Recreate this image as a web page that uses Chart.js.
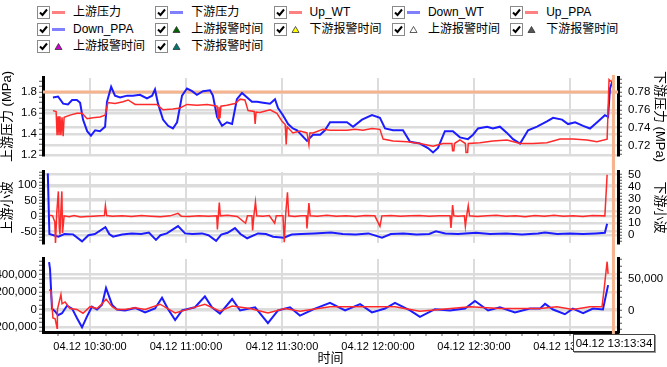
<!DOCTYPE html>
<html>
<head>
<meta charset="utf-8">
<script src="https://cdn.jsdelivr.net/npm/chart.js@4.4.0/dist/chart.umd.min.js"></script>
<style>
  html, body { margin: 0; padding: 0; background: #fff; }
  body { width: 667px; height: 367px; position: relative; overflow: hidden;
         font-family: 'Liberation Sans', 'Noto Sans CJK SC', sans-serif; }
  canvas { position: absolute; left: 0; }
  .lg { position: absolute; height: 13px; width: 118px; font-size: 12px; color: #000; white-space: nowrap; }
  .lg svg { position: absolute; top: 0; }
  .lg span { position: absolute; left: 36px; top: -1px; line-height: 15px; }
  #cursorBox { position: absolute; left: 573px; top: 334px; width: 80px; height: 16px;
               border: 1px solid #444; box-shadow: 1px 1px 0 #999; background: #fff;
               font-size: 11.5px; line-height: 16px; text-align: center; color: #000; z-index: 5; }
</style>
</head>
<body>
<div id="legend"></div>
<canvas id="c1" width="667" height="103" style="top:65px"></canvas>
<canvas id="c2" width="667" height="97" style="top:159px"></canvas>
<canvas id="c3" width="667" height="121" style="top:246px"></canvas>
<div id="cursorBox">04.12 13:13:34</div>
<script>
// ---- 数据 (时间 = 10:00 之后的分钟数) ----
const X_MIN = 15.3, X_MAX = 195;
const CURSOR_MIN = 193.57;           // 13:13:34
const DAY_LABEL = '04.12';

// 图1: 上游压力 (左轴, 红) / 下游压力 (右轴, 蓝)
const p1UpT = [18.4,19.4,19.7,20.0,20.3,20.6,20.9,21.25,21.6,21.9,
  23.75,25.9,27.5,29.1,30.9,33.1,34.7,35.6,37.8,40.3,
  41.9,44.1,46.6,50.9,52.8,55.9,58.1,60.3,63.4,66.6,
  69.7,70.0,70.3,70.6,70.9,72.8,75.3,76.9,78.4,79.4,
  81.3,81.6,81.9,83.1,86.25,88.4,90,91.0,91.3,91.6,
  93.4,95.6,97.8,98.4,98.7,99.7,102.8,105,107.5,110.3,
  112.8,115.3,118.1,120.6,121.6,124.7,129.1,133.1,137.2,140.3,
  143.1,143.3,143.7,143.9,145.6,147.3,147.5,148.0,148.2,151.9,
  155.9,160.3,164.4,168.4,172.8,176.9,180.9,185.3,188.4,191.6,
  192.2,192.8];
const p1UpV = [1.623,1.614,1.39,1.57,1.39,1.57,1.39,1.56,1.38,1.56,
  1.58,1.597,1.597,1.546,1.555,1.563,1.58,1.699,1.69,1.707,
  1.724,1.682,1.682,1.682,1.631,1.639,1.648,1.682,1.673,1.682,
  1.665,1.55,1.66,1.55,1.665,1.673,1.69,1.732,1.724,1.623,
  1.615,1.496,1.61,1.606,1.631,1.597,1.521,1.49,1.30,1.47,
  1.411,1.428,1.411,1.30,1.41,1.411,1.445,1.437,1.437,1.437,
  1.445,1.437,1.453,1.445,1.352,1.335,1.327,1.31,1.285,1.31,
  1.31,1.242,1.242,1.31,1.344,1.31,1.225,1.225,1.31,1.318,
  1.335,1.344,1.31,1.31,1.318,1.352,1.352,1.344,1.327,1.352,
  1.918,1.9];
const p1DownT = [18.4,20,21.6,23.1,24.4,25.9,26.9,27.8,29.1,30.3,
  31.6,33.1,34.7,35.3,36.6,37.8,39.4,41.6,43.4,45.6,
  47.8,49.4,50.3,51.25,52.8,54.4,55.9,57.2,58.75,60.3,
  61.9,63.4,65.3,67.5,68.4,69.7,71.25,72.8,74.4,75.9,
  77.5,79.1,80.6,82.2,84.1,86.25,87.8,88.75,90.3,91.9,
  93.4,94.7,97.8,99.7,101.9,103.4,105,108.1,110.3,112.2,
  115,118.1,120.6,122.2,124.7,127.8,130,133.1,135.6,137.2,
  138.75,140.9,143.4,145.6,148.1,149.7,151.25,154.1,155.9,158.1,
  160.3,162.2,164.4,166.9,169.7,172.8,174.7,177.5,179.4,181.6,
  184.1,186.25,188.75,190.9,191.9,192.5,193.4];
const p1DownV = [0.774,0.775,0.767,0.766,0.771,0.771,0.768,0.749,0.736,0.731,
  0.737,0.736,0.741,0.769,0.786,0.776,0.774,0.776,0.776,0.777,
  0.773,0.776,0.783,0.767,0.749,0.742,0.739,0.746,0.776,0.784,
  0.781,0.777,0.781,0.782,0.776,0.752,0.742,0.746,0.744,0.772,
  0.779,0.774,0.769,0.769,0.768,0.767,0.772,0.762,0.754,0.744,
  0.739,0.737,0.725,0.732,0.732,0.737,0.746,0.746,0.746,0.741,
  0.749,0.754,0.751,0.739,0.737,0.737,0.724,0.722,0.717,0.712,
  0.717,0.736,0.736,0.729,0.727,0.732,0.739,0.741,0.739,0.741,
  0.734,0.727,0.722,0.737,0.741,0.747,0.751,0.749,0.744,0.746,
  0.742,0.739,0.747,0.754,0.752,0.784,0.794];
const p1Limit = 1.8;

// 图2: 上游小波 (左轴, 红) / 下游小波 (右轴, 蓝)
const p2UpT = [17.5,18.3,19.0,19.2,19.6,20.1,20.4,20.6,20.9,21.2,
  21.4,21.9,23.5,25,27,29,31,33,34.5,34.8,
  35.2,37,40,43,46,49,52,55,57.5,58.5,
  61,64,67,69.6,69.8,70.1,70.4,70.7,73,76,
  78.6,79.2,80.6,80.8,81.2,81.7,82.1,84,86,87.7,
  88.2,90.3,90.7,91.1,91.7,92.1,94,96,97.6,97.8,
  98.1,98.4,98.8,101,104,107,110,113,116,119,
  120.6,121.2,124,127,130,133,136,139,142.5,142.8,
  143.1,143.3,143.7,145,147.0,147.3,147.7,148.2,148.6,151,
  154,157,160,163,166,169,172,175,178,181,
  184,187,190.9,191.6];
const p2UpV = [2,0,-20,-91,10,79,-40,-60,20,79,
  -55,0,-3,1,-4,-2,-1,0,1,33,
  1,-1,0,-2,1,-1,-3,0,8,-1,
  -2,0,-1,0,-44,0,43,0,2,-2,
  -24,0,0,-47,0,45,0,-1,1,-24,
  0,0,-85,0,76,0,-2,0,0,-41,
  0,41,0,-1,2,-1,0,-2,1,0,
  -34,0,1,-1,0,1,-1,0,0,-39,
  0,35,0,-1,0,-34,0,33,0,-2,
  0,2,-1,0,-3,1,-1,2,-1,0,
  -2,1,0,133];
const p2DownT = [16.8,17.3,20.1,22,24.7,27.5,29.5,31.5,34.8,36,
  37.2,40,43,46,48.4,50.6,52,54,57.5,59.7,
  62,65,67,69.4,71,73,75.3,77,79.1,82.5,
  85,87.2,90.6,93,96,100,105.3,109,113,117,
  121.25,124,128,132,136,138.1,141,145,150.6,155,
  160,165,170,172.2,176,180,184,188,190.9,191.6];
const p2DownV = [51,1,-1.2,1,0.7,-5.1,0,1,6.7,1,
  -1.2,0.5,1.5,1,2.2,-3.8,0,1.5,7.5,1.5,
  1,1.5,0,-4.6,0.5,2,5.9,1,-2.5,1.5,
  1,-1.2,-2,0.5,1,1.5,2.2,1,0.5,1.5,
  -2,1,1.5,0.5,1,3.3,1.5,1,2,1,
  1.5,0.5,1.5,2.2,1,1.5,1,1.5,2,9.4];

// 图3: Up_PPA (左轴, 红) / Down_PPA (右轴, 蓝)
const p3UpT = [17.2,17.8,18.4,19.1,19.7,19.8,20.9,21.25,22.2,23.75,
  25.9,27.8,30,32.2,33.75,35,36.9,38.4,40.9,44.1,
  47.2,51.9,56.6,61.25,65.9,70.6,74.4,80,85.6,90.9,
  95.6,105,114.4,125.3,133.1,148.8,158.1,170.6,175.9,180.9,
  186.25,190,190.6,191.6,191.9];
const p3UpV = [224600,214000,-96000,-107000,-214000,0,171000,64000,85600,10700,
  0,-42800,32000,10700,64000,118000,32000,0,0,20000,
  0,60000,-40000,10000,60000,-20000,40000,10000,-40000,10000,
  -20000,30000,30000,30000,-20000,30000,10000,10000,32000,0,
  32000,32000,214000,545000,406000];
const p3DownT = [17.2,17.5,18.1,19.1,20,21.25,22.8,24.4,25.9,27.5,
  29.1,30.6,32.2,33.75,35,36.9,38.4,40.9,44.1,47.2,
  50.3,52.5,54.4,56.6,58.75,62.8,65.9,68.1,70.6,74.4,
  76.9,81.6,85.6,88.75,92.5,95.6,100.3,105,109.7,114.4,
  118.1,122.2,125.3,130,133.1,137.8,142.5,147.2,150.3,154.4,
  158.1,162.8,167.5,170.6,172.2,174.7,178.4,180.9,184.1,187.2,
  190.3,191.9];
const p3DownV = [76000,64700,2900,-1500,-7400,-4400,7400,2900,-11800,-26500,
  -8800,5900,1500,8800,35300,8800,1500,0,4000,-3000,
  3000,20000,2000,-15000,0,5000,22000,5000,-5000,18000,
  0,5000,-20000,0,5000,-8000,3000,12000,0,10000,
  -3000,3000,12000,0,-10000,2000,0,3000,15000,0,
  5000,-3000,3000,2900,10300,1500,-5900,2900,-4400,2900,
  1500,39700];

// 图例
const legendLabels = ['上游压力','下游压力','Up_WT','Down_WT','Up_PPA',
  'Down_PPA','上游报警时间','下游报警时间','上游报警时间','下游报警时间',
  '上游报警时间','下游报警时间'];
const legendMarks = ['line','line','line','line','line','line','tri','tri','tri','tri','tri','tri'];
const legendColors = ['#ff8080','#8080ff','#ff8080','#8080ff','#ff8080','#8080ff',
  '#006400','#ffff00','#ffffff','#555555','#cc00cc','#007878'];

// ---- 样式 ----
const RED = '#ff2a2a', BLUE = '#1c1cff';
const GRID = '#dcdcdc', ORANGE = '#f5b48e';
Chart.defaults.font.family = "'Liberation Sans', 'Noto Sans CJK SC', sans-serif";
Chart.defaults.color = '#000';

function buildLegend() {
  const box = document.getElementById('legend');
  legendLabels.forEach((txt, i) => {
    const row = Math.floor(i / 5), col = i % 5;
    const d = document.createElement('div');
    d.className = 'lg';
    d.style.left = (37 + col * 118.3) + 'px';
    d.style.top = (6 + row * 16.8) + 'px';
    let mark;
    if (legendMarks[i] === 'line') {
      mark = `<svg width="14" height="13" style="left:15px"><line x1="0" y1="6.5" x2="13" y2="6.5" stroke="${legendColors[i]}" stroke-width="3"/></svg>`;
    } else {
      mark = `<svg width="10" height="13" style="left:17px"><polygon points="4.5,3.5 8,9.5 1,9.5" fill="${legendColors[i]}" stroke="#333" stroke-width="0.8"/></svg>`;
    }
    d.innerHTML =
      `<svg width="13" height="13" style="left:0"><rect x="0.5" y="0.5" width="12" height="12" fill="#fff" stroke="#8a8a8a"/>` +
      `<path d="M3 6.5 L5.5 9 L10 3.5" stroke="#000" stroke-width="2" fill="none"/></svg>` +
      mark + `<span>${txt}</span>`;
    box.appendChild(d);
  });
}
buildLegend();

// ---- 工具 ----
const zip = (t, v) => t.slice(0, Math.min(t.length, v.length)).map((x, i) => ({ x, y: v[i] }));
const isMajor = (v, step) => Math.abs(v / step - Math.round(v / step)) < 1e-6;
function tickList(min, max, step) {
  const out = [];
  for (let k = Math.ceil(min / step - 1e-9); k * step <= max + 1e-9; k++) out.push({ value: k * step });
  return out;
}
function fmtTime(m) {
  const h = 10 + Math.floor(m / 60), mm = Math.round(m % 60);
  return `${DAY_LABEL} ${h}:${String(mm).padStart(2, '0')}:00`;
}

function xAxis(showLabels) {
  return {
    type: 'linear', min: X_MIN, max: X_MAX,
    afterBuildTicks: s => { s.ticks = tickList(X_MIN, X_MAX, 5); },
    afterFit: s => { s.height = showLabels ? 35 : 0; },
    ticks: {
      display: showLabels, autoSkip: false, maxRotation: 0, padding: 4,
      font: { size: 11 }, color: '#000',
      callback: v => isMajor(v, 30) ? fmtTime(v) : ''
    },
    grid: {
      color: c => (c.tick && isMajor(c.tick.value, 30)) ? GRID : 'rgba(0,0,0,0)',
      lineWidth: 2, drawTicks: showLabels, tickLength: 4, tickColor: '#666', tickWidth: 1
    },
    border: { display: showLabels, color: '#000', width: 3 },
    title: showLabels
      ? { display: true, text: '时间', font: { size: 13 }, color: '#000', padding: { top: 0, bottom: 1 } }
      : { display: false }
  };
}

function yAxis(pos, min, max, major, minor, fmt, title) {
  const left = pos === 'left';
  return {
    type: 'linear', position: pos, min, max,
    afterBuildTicks: s => { s.ticks = tickList(min, max, minor); },
    afterFit: s => { s.width = left ? 43 : 49; },
    ticks: {
      autoSkip: false, padding: left ? 2 : 6, font: { size: 11.5 }, color: '#000',
      callback: v => isMajor(v, major) ? fmt(v) : ''
    },
    grid: {
      color: c => (c.tick && isMajor(c.tick.value, major)) ? GRID : 'rgba(0,0,0,0)',
      lineWidth: 2.5, tickLength: 4, tickColor: '#555', tickWidth: 1
    },
    border: { color: '#000', width: 3 },
    title: title
      ? { display: true, text: title, font: { size: 13 }, color: '#000', padding: 0 }
      : { display: false }
  };
}

const limitLine = {
  id: 'limitLine',
  beforeDatasetsDraw(chart, args, opts) {
    if (opts.value == null) return;
    const { ctx, chartArea } = chart;
    const y = chart.scales.yL.getPixelForValue(opts.value);
    ctx.save();
    ctx.strokeStyle = ORANGE; ctx.lineWidth = 3;
    ctx.beginPath(); ctx.moveTo(chartArea.left, y); ctx.lineTo(chartArea.right, y); ctx.stroke();
    ctx.restore();
  }
};
const cursorLine = {
  id: 'cursorLine',
  afterDatasetsDraw(chart, args, opts) {
    const { ctx, chartArea } = chart;
    const x = chart.scales.x.getPixelForValue(CURSOR_MIN);
    ctx.save();
    ctx.strokeStyle = ORANGE; ctx.lineWidth = 3;
    ctx.beginPath(); ctx.moveTo(x, opts.fromTop ? chartArea.top - 3 : 0);
    ctx.lineTo(x, opts.toEdge ? chart.height : chartArea.bottom + 2);
    ctx.stroke();
    ctx.restore();
  }
};

function line(data, color, width, axis) {
  return { data, borderColor: color, borderWidth: width, pointRadius: 0, tension: 0, yAxisID: axis, fill: false };
}

function makePanel(id, datasets, yL, yR, bottom, limit) {
  return new Chart(document.getElementById(id), {
    type: 'line',
    data: { datasets },
    options: {
      responsive: false, animation: false, devicePixelRatio: 1,
      layout: { padding: { top: 8, bottom: bottom ? 0 : 8, left: 0, right: 0 } },
      plugins: {
        legend: { display: false }, tooltip: { enabled: false },
        limitLine: { value: limit }, cursorLine: { toEdge: !bottom, fromTop: limit != null }
      },
      scales: { x: xAxis(bottom), yL, yR }
    },
    plugins: [limitLine, cursorLine]
  });
}

makePanel('c1', [
    line(zip(p1UpT, p1UpV), RED, 1.5, 'yL'),
    line(zip(p1DownT, p1DownV), BLUE, 2, 'yR')
  ],
  yAxis('left', 1.2, 1.934, 0.2, 0.05, v => v.toFixed(1), '上游压力 (MPa)'),
  yAxis('right', 0.709, 0.796, 0.02, 0.005, v => v.toFixed(2), '下游压力 (MPa)'),
  false, p1Limit);

makePanel('c2', [
    line(zip(p2UpT, p2UpV), RED, 1.5, 'yL'),
    line(zip(p2DownT, p2DownV), BLUE, 2, 'yR')
  ],
  yAxis('left', -88, 142, 50, 10, v => String(Math.round(v)), '上游小波'),
  yAxis('right', -6.5, 52.2, 10, 2.5, v => String(Math.round(v)), '下游小波'),
  false, null);

makePanel('c3', [
    line(zip(p3UpT, p3UpV), RED, 1.5, 'yL'),
    line(zip(p3DownT, p3DownV), BLUE, 2, 'yR')
  ],
  yAxis('left', -257000, 577000, 200000, 50000, v => Math.round(v).toLocaleString('en-US'), null),
  yAxis('right', -33800, 80900, 50000, 10000, v => Math.round(v).toLocaleString('en-US'), null),
  true, null);
</script>
</body>
</html>
